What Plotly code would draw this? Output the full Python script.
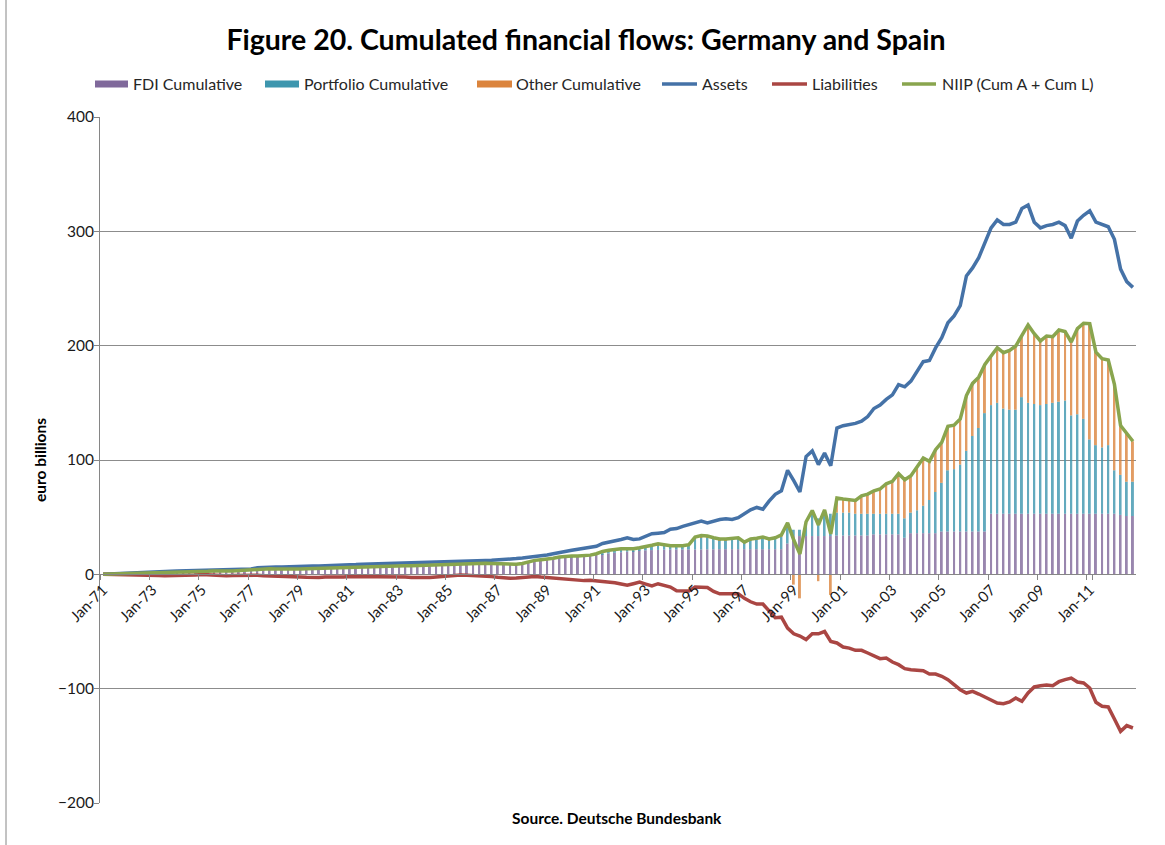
import plotly.graph_objects as go

# quarterly categories, Jan-71 .. Oct-12
MONTHS = ["Jan", "Apr", "Jul", "Oct"]
quarters = [f"{m}-{y % 100:02d}" for y in range(1971, 2013) for m in MONTHS]
tick_labels = [f"Jan-{y % 100:02d}" for y in range(1971, 2012, 2)]

# euro billions
fdi = [
    0.1, 0.2, 0.3, 0.5, 0.6, 0.7, 0.8, 0.9,
    1.0, 1.1, 1.2, 1.3, 1.5, 1.6, 1.7, 1.8,
    2.0, 2.2, 2.5, 2.8, 2.7, 2.6, 2.8, 3.0,
    3.3, 4.0, 4.2, 4.2, 4.1, 4.0, 4.0, 4.0,
    4.2, 4.4, 4.6, 4.8, 5.0, 5.2, 5.4, 5.5,
    5.7, 6.0, 6.2, 6.4, 6.5, 6.6, 6.7, 6.8,
    6.9, 7.0, 7.2, 7.4, 7.6, 7.8, 8.0, 8.2,
    8.4, 8.6, 8.8, 9.0, 9.2, 9.3, 9.4, 9.5,
    9.3, 9.0, 8.8, 8.8, 9.5, 10.8, 11.4, 12.0,
    12.6, 13.2, 13.8, 14.4, 15.0, 15.5, 16.0, 16.5,
    17.0, 17.6, 18.2, 18.8, 19.3, 19.8, 20.3, 20.8,
    21.0, 21.2, 21.4, 21.6, 21.7, 21.8, 21.8, 21.8,
    21.8, 21.8, 21.9, 21.9, 22.0, 22.0, 22.0, 22.0,
    22.0, 22.0, 22.0, 22.0, 22.0, 22.0, 22.0, 27.0,
    33.5, 33.5, 33.5, 33.5, 33.5, 33.5, 33.5, 34.0,
    34.0, 34.0, 34.0, 34.0, 34.0, 35.0, 35.0, 35.0,
    35.0, 35.0, 32.0, 36.0, 36.0, 36.0, 36.0, 36.0,
    37.5, 37.5, 37.5, 37.5, 37.5, 37.5, 37.5, 37.5,
    53.0, 53.0, 53.0, 53.0, 53.0, 53.0, 53.0, 53.0,
    53.0, 53.0, 53.0, 53.0, 53.0, 53.0, 53.0, 53.0,
    53.0, 53.0, 53.0, 53.0, 53.0, 52.0, 51.0, 51.0,
]
portfolio = [
    0.0, 0.0, 0.0, 0.0, 0.0, 0.0, 0.0, 0.0,
    0.0, 0.0, 0.0, 0.0, 0.0, 0.0, 0.0, 0.0,
    0.0, 0.0, 0.0, 0.0, 0.0, 0.0, 0.0, 0.0,
    0.0, 0.0, 0.0, 0.0, 0.0, 0.0, 0.0, 0.0,
    0.0, 0.0, 0.0, 0.0, 0.0, 0.0, 0.0, 0.0,
    0.0, 0.0, 0.0, 0.0, 0.0, 0.0, 0.0, 0.0,
    0.0, 0.0, 0.0, 0.0, 0.0, 0.0, 0.0, 0.0,
    0.0, 0.0, 0.0, 0.0, 0.0, 0.0, 0.0, 0.0,
    0.0, 0.0, 0.0, 0.0, 0.0, 0.2, 0.4, 0.4,
    0.4, 0.5, 0.8, 0.8, 0.7, 0.4, 0.2, 0.2,
    0.6, 1.6, 2.0, 2.4, 2.3, 1.8, 1.4, 1.6,
    2.8, 3.3, 4.2, 3.5, 2.5, 2.5, 2.6, 3.5,
    9.5, 10.8, 10.3, 9.0, 8.0, 8.0, 8.5, 9.0,
    5.5, 8.0, 8.5, 9.6, 8.0, 9.0, 11.0, 16.0,
    5.5, 5.5, 12.5, 20.5, 15.5, 21.5, 19.5, 20.0,
    20.0, 20.0, 19.0, 19.0, 19.0, 18.0, 18.0, 18.0,
    18.0, 18.0, 17.0, 18.0, 20.0, 24.0, 29.0, 36.0,
    42.5, 53.5, 54.5, 58.5, 70.5, 83.5, 90.5, 103.5,
    95.0, 97.0, 92.0, 91.0, 91.0, 102.0, 97.0, 96.0,
    95.0, 96.0, 97.0, 98.0, 99.0, 86.0, 87.0, 83.0,
    65.0, 60.0, 58.0, 60.0, 38.0, 35.0, 30.0, 30.0,
]
other = [
    0.0, 0.0, 0.1, 0.1, 0.2, 0.2, 0.2, 0.2,
    0.2, 0.2, 0.3, 0.3, 0.3, 0.3, 0.3, 0.3,
    0.3, 0.4, 0.5, 0.5, 0.3, 0.3, 0.4, 0.5,
    0.5, 0.8, 0.8, 0.7, 0.6, 0.5, 0.4, 0.4,
    0.4, 0.5, 0.5, 0.5, 0.5, 0.6, 0.6, 0.6,
    0.5, 0.5, 0.6, 0.5, 0.5, 0.4, 0.4, 0.4,
    0.4, 0.5, 0.4, 0.4, 0.4, 0.5, 0.5, 0.5,
    0.6, 0.6, 0.7, 0.7, 0.6, 0.4, 0.2, 0.0,
    0.0, 0.0, 0.0, 0.0, 0.0, 0.0, 0.4, 0.4,
    0.3, 0.3, 0.5, 0.5, 0.3, 0.1, 0.1, 0.1,
    0.4, 0.8, 0.8, 0.8, 0.8, 0.8, 0.7, 0.8,
    0.9, 1.0, 1.2, 0.9, 0.8, 0.7, 0.6, 0.7,
    1.3, 1.4, 1.3, 1.1, 1.0, 1.0, 1.0, 1.0,
    0.7, 1.0, 1.0, 1.0, 1.0, 1.0, 1.5, 2.0,
    -9.0, -21.0, 0.0, 1.8, -6.0, 1.4, -18.0, 12.7,
    11.8, 11.2, 11.6, 15.7, 17.2, 20.1, 21.6, 26.2,
    28.3, 35.0, 33.7, 32.3, 38.4, 41.8, 33.8, 37.0,
    35.5, 38.5, 38.4, 40.0, 48.4, 46.0, 44.5, 42.6,
    43.0, 48.2, 48.9, 51.9, 55.7, 53.5, 68.1, 61.5,
    56.1, 59.5, 57.9, 62.7, 60.3, 64.2, 74.9, 83.6,
    101.3, 81.4, 77.6, 74.4, 75.1, 43.1, 42.7, 35.4,
]
assets = [
    0.1, 0.4, 0.8, 1.1, 1.4, 1.5, 1.7, 1.9,
    2.2, 2.4, 2.6, 2.8, 2.9, 3.0, 3.0, 3.0,
    3.1, 3.3, 3.8, 4.1, 4.2, 4.3, 4.4, 4.5,
    4.6, 5.8, 6.2, 6.3, 6.4, 6.5, 6.5, 6.6,
    6.8, 7.0, 7.2, 7.3, 7.4, 7.6, 7.8, 8.0,
    8.2, 8.5, 8.9, 9.1, 9.2, 9.3, 9.4, 9.4,
    9.5, 9.7, 9.8, 10.0, 10.2, 10.4, 10.6, 10.8,
    11.0, 11.2, 11.4, 11.6, 11.8, 12.0, 12.2, 12.3,
    12.5, 12.8, 13.3, 13.8, 14.3, 14.8, 15.3, 16.0,
    17.0, 18.0, 19.2, 20.0, 21.0, 22.0, 23.0, 23.5,
    24.5, 27.0, 28.0, 29.0, 30.5, 32.0, 30.5, 31.0,
    33.0, 35.5, 36.0, 36.5, 39.5, 40.0, 42.0, 43.5,
    44.5, 46.5, 45.0, 46.5, 48.0, 48.5, 48.0, 49.5,
    53.0, 56.5, 58.5, 57.0, 64.0, 70.0, 73.0, 91.0,
    82.0, 72.0, 103.0, 108.0, 96.0, 106.0, 95.0, 128.0,
    130.0, 131.0, 132.0, 134.0, 138.0, 145.0, 148.0, 153.0,
    157.0, 166.0, 164.0, 169.0, 178.0, 186.0, 187.0, 198.0,
    207.0, 220.0, 226.0, 235.0, 261.0, 268.0, 277.0, 290.0,
    303.0, 310.0, 306.0, 306.0, 308.0, 320.0, 323.0, 308.0,
    303.0, 305.0, 306.0, 308.0, 305.0, 294.0, 309.0, 314.0,
    318.0, 308.0, 306.0, 304.0, 293.0, 267.0, 256.0, 251.0,
]
liabilities = [
    0.0, -0.2, -0.4, -0.5, -0.6, -0.6, -0.7, -0.8,
    -1.0, -1.1, -1.2, -1.2, -1.1, -1.0, -0.8, -0.5,
    -0.2, -0.6, -1.0, -1.2, -1.2, -1.1, -1.0, -0.6,
    -0.2, -0.8, -1.3, -1.6, -1.8, -2.0, -2.2, -2.3,
    -2.4, -2.6, -2.9, -2.7, -2.4, -2.6, -2.8, -2.4,
    -2.0, -2.0, -2.1, -2.2, -2.2, -2.2, -2.1, -2.1,
    -2.2, -2.4, -2.8, -3.0, -3.0, -2.8, -2.3, -1.8,
    -1.2, -0.8, -0.6, -0.8, -1.0, -1.2, -1.5, -2.0,
    -2.6, -3.2, -3.4, -3.3, -3.0, -2.2, -1.8, -2.4,
    -2.8, -3.3, -3.8, -4.1, -4.4, -5.3, -5.5, -5.2,
    -5.6, -6.7, -7.0, -7.3, -8.5, -9.6, -8.2, -6.7,
    -8.5, -10.2, -8.2, -9.5, -11.1, -14.3, -14.5, -14.6,
    -11.0, -11.0, -11.5, -15.0, -17.0, -17.0, -17.0, -17.0,
    -21.0, -24.0, -26.0, -26.0, -32.0, -38.0, -37.5, -47.0,
    -52.0, -54.0, -57.0, -52.0, -52.0, -50.0, -58.7, -60.0,
    -63.6, -64.5, -66.5, -66.5, -68.8, -71.2, -73.8, -73.2,
    -76.7, -79.0, -82.5, -83.4, -84.0, -84.3, -87.2, -87.2,
    -89.2, -92.1, -96.5, -100.9, -103.8, -102.3, -104.7, -107.3,
    -110.2, -112.5, -113.1, -111.6, -108.2, -111.0, -103.8, -98.5,
    -97.4, -96.8, -97.4, -93.9, -92.1, -90.7, -94.2, -95.0,
    -99.4, -111.9, -115.4, -116.0, -126.5, -137.3, -132.3, -134.4,
]
niip = [
    0.1, 0.2, 0.4, 0.6, 0.8, 0.9, 1.0, 1.1,
    1.2, 1.3, 1.5, 1.6, 1.8, 1.9, 2.0, 2.1,
    2.3, 2.6, 3.0, 3.3, 3.0, 2.9, 3.2, 3.5,
    3.8, 4.8, 5.0, 4.9, 4.7, 4.5, 4.4, 4.4,
    4.6, 4.9, 5.1, 5.3, 5.5, 5.8, 6.0, 6.1,
    6.2, 6.5, 6.8, 6.9, 7.0, 7.0, 7.1, 7.2,
    7.3, 7.5, 7.6, 7.8, 8.0, 8.3, 8.5, 8.7,
    9.0, 9.2, 9.5, 9.7, 9.8, 9.7, 9.6, 9.5,
    9.3, 9.0, 8.8, 8.8, 9.5, 11.0, 12.2, 12.8,
    13.3, 14.0, 15.1, 15.7, 16.0, 16.0, 16.3, 16.8,
    18.0, 20.0, 21.0, 22.0, 22.4, 22.4, 22.4, 23.2,
    24.7, 25.5, 26.8, 26.0, 25.0, 25.0, 25.0, 26.0,
    32.6, 34.0, 33.5, 32.0, 31.0, 31.0, 31.5, 32.0,
    28.2, 31.0, 31.5, 32.6, 31.0, 32.0, 34.5, 45.0,
    30.0, 17.8, 46.0, 55.8, 43.2, 56.4, 35.4, 66.7,
    65.8, 65.2, 64.6, 68.7, 70.2, 73.1, 74.6, 79.2,
    81.3, 88.0, 82.7, 86.3, 94.4, 101.8, 98.8, 109.0,
    115.5, 129.5, 130.4, 136.0, 156.4, 167.0, 172.5, 183.6,
    191.0, 198.2, 193.9, 195.9, 199.7, 208.5, 218.1, 210.5,
    204.1, 208.5, 207.9, 213.7, 212.3, 203.2, 214.9, 219.6,
    219.3, 194.4, 188.6, 187.4, 166.1, 130.1, 123.7, 116.4,
]

FONT = "Lato, 'Open Sans', sans-serif"
W, H = 1165, 845
L, R, T, B = 100, 29, 117, 42
PW, PH = W - L - R, H - T - B


def px_x(p):
    return (p - L) / PW


def px_y(p):
    return (H - B - p) / PH


# name, values, colour, swatch left/right px, label left px
bars = [
    ("FDI Cumulative", fdi, "#80699B", 95, 128, 131),
    ("Portfolio Cumulative", portfolio, "#3D96AE", 265, 299, 302),
    ("Other Cumulative", other, "#DB843D", 477, 512, 514),
]
lines = [
    ("Assets", assets, "#4572A7", 662, 697, 700),
    ("Liabilities", liabilities, "#AA4643", 772, 807, 810),
    ("NIIP (Cum A + Cum L)", niip, "#89A54E", 902, 936, 940),
]

fig = go.Figure()
for name, vals, color, *_ in bars:
    fig.add_trace(go.Bar(x=quarters, y=vals, name=name, opacity=0.8,
                         marker=dict(color=color, line_width=0)))
for name, vals, color, *_ in lines:
    fig.add_trace(go.Scatter(x=quarters, y=vals, name=name, mode="lines",
                             line=dict(color=color, width=3.5)))

# legend drawn by hand so the swatches match the Excel look
LEG_Y = 84
shapes = [
    dict(type="line", xref="paper", yref="paper", x0=px_x(6), x1=px_x(6),
         y0=-0.1, y1=1.2, line=dict(color="#868686", width=1)),
]
annotations = [
    dict(text="<b>euro billions</b>", textangle=-90, xref="paper", yref="paper",
         x=px_x(40), y=px_y(460), xanchor="center", yanchor="middle", showarrow=False,
         font=dict(family=FONT, size=15.5, color="#000000")),
    dict(text="<b>Source. Deutsche Bundesbank</b>", xref="paper", yref="paper",
         x=px_x(617), y=px_y(818), xanchor="center", yanchor="middle", showarrow=False,
         font=dict(family=FONT, size=15.5, color="#000000")),
]
for name, _, color, x0, x1, tx in bars:
    shapes.append(dict(type="rect", xref="paper", yref="paper", x0=px_x(x0), x1=px_x(x1),
                       y0=px_y(LEG_Y + 3.5), y1=px_y(LEG_Y - 3.5),
                       fillcolor=color, line_width=0))
for name, _, color, x0, x1, tx in lines:
    shapes.append(dict(type="line", xref="paper", yref="paper", x0=px_x(x0), x1=px_x(x1),
                       y0=px_y(LEG_Y), y1=px_y(LEG_Y), line=dict(color=color, width=3.5)))
for name, _, _, _, _, tx in bars + lines:
    annotations.append(dict(text=name, xref="paper", yref="paper", x=px_x(tx), y=px_y(LEG_Y),
                            xanchor="left", yanchor="middle", showarrow=False,
                            font=dict(family=FONT, size=16, color="#262626")))

fig.update_layout(
    width=W, height=H,
    margin=dict(l=L, r=R, t=T, b=B),
    paper_bgcolor="white", plot_bgcolor="white",
    barmode="relative", bargap=0.68,
    showlegend=False,
    font=dict(family=FONT, size=14, color="#1a1a1a"),
    title=dict(text="<b>Figure 20. Cumulated financial flows: Germany and Spain</b>",
               x=0.503, xanchor="center", y=1 - 40 / H, yanchor="middle",
               xref="container", yref="container",
               font=dict(family=FONT, size=28.5, color="#000000")),
    xaxis=dict(type="category", anchor="free", position=1 / 3,
               tickmode="array", tickvals=tick_labels, ticktext=tick_labels,
               tickangle=-45, tickson="boundaries", ticks="outside", ticklen=5,
               tickcolor="#868686", showline=True, linecolor="#868686", linewidth=1,
               showgrid=False, tickfont=dict(family=FONT, size=15, color="#1a1a1a")),
    yaxis=dict(range=[-200, 400], dtick=100, showgrid=True, gridcolor="#8c8c8c",
               gridwidth=1, zeroline=False, showline=True, linecolor="#868686",
               ticks="outside", ticklen=5, tickcolor="#868686", ticklabelstandoff=-3,
               tickfont=dict(family=FONT, size=15.5, color="#1a1a1a")),
    annotations=annotations,
    shapes=shapes,
)

fig.write_html("out.html", config={"displayModeBar": False},
               post_script="document.body.style.margin='0';")
